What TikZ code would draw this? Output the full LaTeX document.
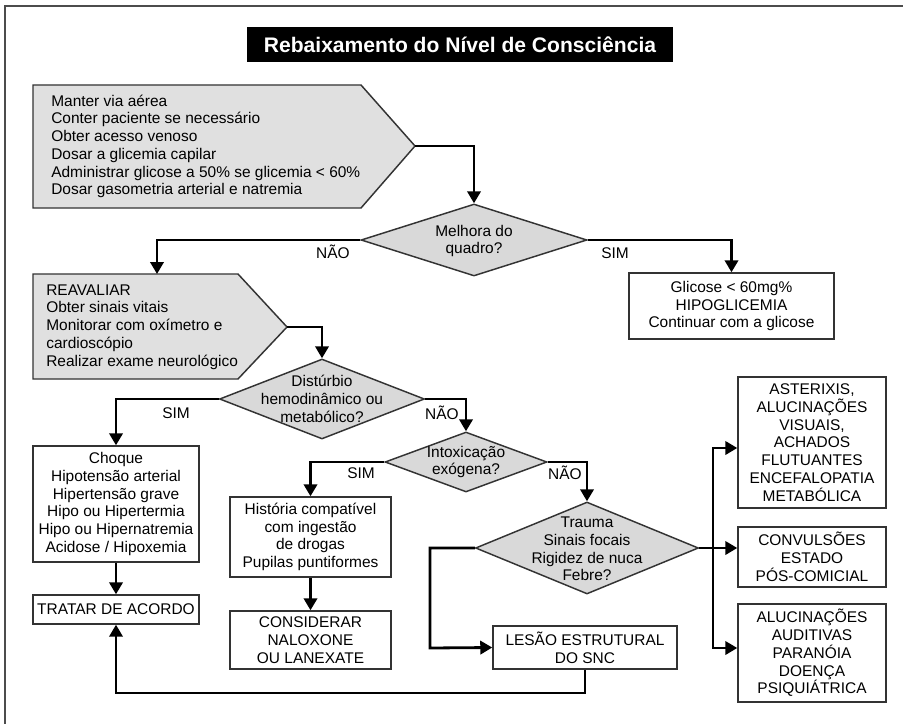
\documentclass[tikz,border=0pt]{standalone}
\usepackage{fontspec}
\setmainfont{Liberation Sans}
\usetikzlibrary{arrows.meta,shapes.geometric}
\newcommand{\txtfont}{\fontsize{11.6}{13.3}\selectfont}
\tikzset{
  box/.style={draw=black!80, line width=1.1pt, fill=white, inner sep=0pt, align=center, font=\txtfont},
  bx/.style 2 args={box, minimum width=#1*0.75pt, minimum height=#2*0.75pt},
  pent/.style={draw=black!80, line width=1.1pt, fill=black!12},
  dia/.style 2 args={diamond, draw=black!80, line width=1.1pt, fill=black!15, inner sep=0pt,
     minimum width=#1*0.75pt, minimum height=#2*0.75pt},
  txt/.style={inner sep=0pt, align=center, font=\txtfont},
  lbl/.style={inner sep=0pt, font=\txtfont},
  conn/.style={line width=2.1pt, -{Triangle[length=9pt,width=10pt]}},
}
\begin{document}
\begin{tikzpicture}[x=0.75pt,y=-0.75pt]
\useasboundingbox (0,0) rectangle (903,724);
\draw[black!70, line width=1.5pt] (5,724) -- (5,6) -- (903,6);

% title
\node[fill=black, text=white, inner sep=0pt, minimum width=426*0.75pt, minimum height=35*0.75pt,
  font=\bfseries\fontsize{15.8}{18}\selectfont] (title) at (460,44.5) {Rebaixamento do Nível de Consciência};

% pentagon 1
\draw[pent] (33,85) -- (361,85) -- (415,146) -- (361,208) -- (33,208) -- cycle;
\coordinate (p1tip) at (415,146);
\node[txt, align=left, anchor=west] (p1text) at (51,146.5) {Manter via aérea\\Conter paciente se necessário\\Obter acesso venoso\\Dosar a glicemia capilar\\Administrar glicose a 50\% se glicemia < 60\%\\Dosar gasometria arterial e natremia};

% diamond 1
\node[dia={226}{72}] (d1) at (474,240) {};
\node[txt] (d1t) at (474,241) {Melhora do\\quadro?};

% glicose
\node[bx={205}{66}] (glic) at (731.5,306) {Glicose < 60mg\%\\HIPOGLICEMIA\\Continuar com a glicose};

% pentagon 2
\draw[pent] (33,274) -- (238,274) -- (287,327) -- (238,379) -- (33,379) -- cycle;
\coordinate (p2tip) at (287,327);
\coordinate (p2top) at (157,274);
\node[txt, align=left, anchor=west] (p2text) at (46,327) {REAVALIAR\\Obter sinais vitais\\Monitorar com oxímetro e\\cardioscópio\\Realizar exame neurológico};

% diamond 2
\node[dia={205}{80}] (d2) at (322,399) {};
\node[txt] (d2t) at (322,399) {Distúrbio\\hemodinâmico ou\\metabólico?};

% left column
\node[bx={166}{116}] (choque) at (116,504) {Choque\\Hipotensão arterial\\Hipertensão grave\\Hipo ou Hipertermia\\Hipo ou Hipernatremia\\Acidose / Hipoxemia};
\node[bx={166}{29}] (tratar) at (116,609.5) {TRATAR DE ACORDO};

% diamond 3
\node[dia={162}{60}] (d3) at (466,462) {};
\node[txt] (d3t) at (466,462) {Intoxicação\\exógena?};

\node[bx={161}{80}] (hist) at (310.5,537) {História compatível\\com ingestão\\de drogas\\Pupilas puntiformes};
\node[bx={161}{58}] (cons) at (310.5,640) {CONSIDERAR\\NALOXONE\\OU LANEXATE};

% diamond 4
\node[dia={223}{92}] (d4) at (587,548) {};
\node[txt] (d4t) at (587,549) {Trauma\\Sinais focais\\Rigidez de nuca\\Febre?};

\node[bx={184}{43}] (lesao) at (585,647.5) {LESÃO ESTRUTURAL\\DO SNC};

% right column
\node[bx={148}{131}] (ast) at (812,442.5) {ASTERIXIS,\\ALUCINAÇÕES\\VISUAIS,\\ACHADOS\\FLUTUANTES\\ENCEFALOPATIA\\METABÓLICA};
\node[bx={148}{60}] (conv) at (812,557) {CONVULSÕES\\ESTADO\\PÓS-COMICIAL};
\node[bx={148}{98}] (alu) at (812,653) {ALUCINAÇÕES\\AUDITIVAS\\PARANÓIA\\DOENÇA\\PSIQUIÁTRICA};

% labels
\node[lbl] (l1) at (333,252) {NÃO};
\node[lbl] (l2) at (615,253) {SIM};
\node[lbl] (l3) at (176,413) {SIM};
\node[lbl] (l4) at (442,413) {NÃO};
\node[lbl] (l5) at (361,473) {SIM};
\node[lbl] (l6) at (565,473) {NÃO};

% connectors
\draw[conn] (p1tip) -| (d1.north);
\draw[conn] (d1.west) -| (p2top);
\draw[conn] (d1.east) -| (glic.north);
\draw[conn] (p2tip) -| (d2.north);
\draw[conn] (d2.west) -| (choque.north);
\draw[conn] (d2.east) -| (d3.north);
\draw[conn] (choque.south) -- (tratar.north);
\draw[conn] (d3.west) -| (hist.north);
\draw[conn] (d3.east) -| (d4.north);
\draw[conn] (hist.south) -- (cons.north);
\coordinate (cA) at (430,648);
\draw[conn] (d4.west) -| (cA) -- (lesao.west);
\coordinate (cB) at (116,693);
\draw[conn] (lesao.south) |- (cB) -- (tratar.south);
\draw[conn] (d4.east) -- (d4.east -| conv.west);
\coordinate (j1) at (713,448);
\coordinate (j2) at (713,648);
\draw[conn] (j2) -- (j1) -- (j1 -| ast.west);
\draw[conn] (j1) -- (j2) -- (j2 -| alu.west);
\end{tikzpicture}
\end{document}
